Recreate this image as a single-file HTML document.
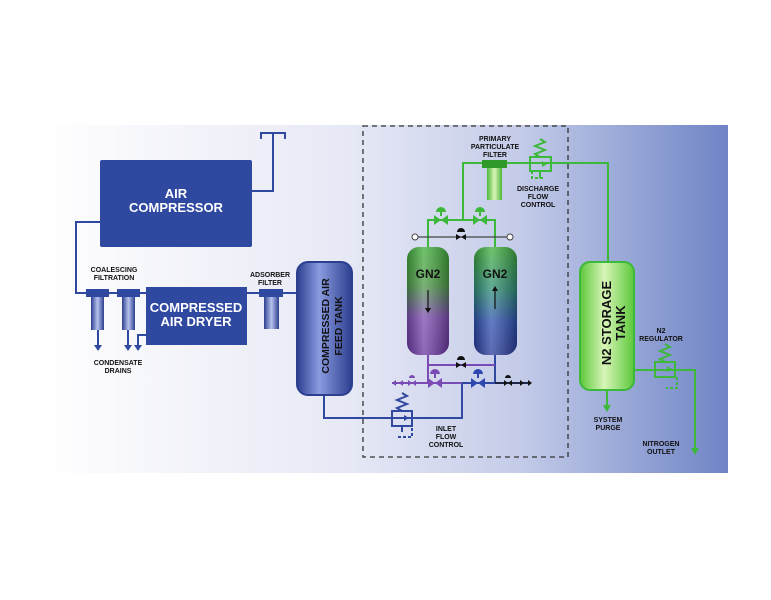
<!DOCTYPE html>
<html><head><meta charset="utf-8"><style>
html,body{margin:0;padding:0;background:#fff}
svg{display:block}
text{font-family:"Liberation Sans",sans-serif;font-weight:bold}
</style></head><body>
<svg width="771" height="600" viewBox="0 0 771 600" xmlns="http://www.w3.org/2000/svg">
<defs>
<linearGradient id="bg" x1="0" x2="1" y1="0" y2="0">
<stop offset="0" stop-color="#ffffff"/>
<stop offset="0.45" stop-color="#e6e8f5"/>
<stop offset="0.7" stop-color="#c3cbe8"/>
<stop offset="1" stop-color="#6f84c6"/>
</linearGradient>
<linearGradient id="tankB" x1="0" x2="1">
<stop offset="0" stop-color="#2c3f8f"/><stop offset="0.4" stop-color="#8b9be0"/><stop offset="1" stop-color="#2c3f8f"/>
</linearGradient>
<linearGradient id="tankG" x1="0" x2="1">
<stop offset="0" stop-color="#5cc83a"/><stop offset="0.45" stop-color="#d8f5b8"/><stop offset="1" stop-color="#5cc83a"/>
</linearGradient>
<linearGradient id="t1" x1="0" x2="0" y1="0" y2="1">
<stop offset="0" stop-color="#3fae3a"/><stop offset="0.35" stop-color="#4c9a45"/><stop offset="0.65" stop-color="#7d4cb0"/><stop offset="1" stop-color="#6a35a0"/>
</linearGradient>
<linearGradient id="t2" x1="0" x2="0" y1="0" y2="1">
<stop offset="0" stop-color="#3fae3a"/><stop offset="0.4" stop-color="#2f8c78"/><stop offset="0.7" stop-color="#2d4fb0"/><stop offset="1" stop-color="#2a3a9a"/>
</linearGradient>
<linearGradient id="sh" x1="0" x2="1">
<stop offset="0" stop-color="#000" stop-opacity="0.25"/><stop offset="0.4" stop-color="#fff" stop-opacity="0.25"/><stop offset="1" stop-color="#000" stop-opacity="0.3"/>
</linearGradient>
<linearGradient id="fb" x1="0" x2="1"><stop offset="0" stop-color="#2c3f8f"/><stop offset="0.5" stop-color="#b7c2ee"/><stop offset="1" stop-color="#2c3f8f"/></linearGradient>
<linearGradient id="fg" x1="0" x2="1"><stop offset="0" stop-color="#4cb83a"/><stop offset="0.5" stop-color="#d8f5b8"/><stop offset="1" stop-color="#4cb83a"/></linearGradient>
</defs>
<rect x="40" y="125" width="688" height="348" fill="url(#bg)"/>

<g stroke="#2f48a0" stroke-width="2" fill="none">
<polyline points="252,191 273,191 273,133"/>
<polyline points="261,139 261,133 285,133 285,139"/>
<polyline points="100,222 76,222 76,293 297,293"/>
<polyline points="98,330 98,345"/><polyline points="128,330 128,345"/><polyline points="146,335 138,335 138,345"/>
<polyline points="324,395 324,418 462,418 462,383"/>
<line x1="360" y1="418" x2="363" y2="418"/>
<rect x="392" y="411" width="20" height="15"/>
<polyline points="402,411 397,408 407,404 397,400 407,396 402,393"/>
<polyline points="402,426 402,432"/>
<polyline points="398,437 412,437 412,428" stroke-dasharray="3,2"/>
<line x1="462" y1="383" x2="530" y2="383"/>
<line x1="495" y1="355" x2="495" y2="383"/>
</g>
<g fill="#2f48a0">
<path d="M94,345h8l-4,6z M124,345h8l-4,6z M134,345h8l-4,6z"/>
<path d="M404,415l5,3l-5,3z"/>
</g>

<rect x="100" y="160" width="152" height="87" rx="2" fill="#2f48a0"/>
<text x="176" y="198" fill="#fff" font-size="13" text-anchor="middle">AIR</text>
<text x="176" y="212" fill="#fff" font-size="13" text-anchor="middle">COMPRESSOR</text>
<g>
<rect x="86" y="289" width="23" height="8" fill="#2f48a0"/><rect x="91" y="297" width="13" height="33" fill="url(#fb)"/>
<rect x="117" y="289" width="23" height="8" fill="#2f48a0"/><rect x="122" y="297" width="13" height="33" fill="url(#fb)"/>
<rect x="259" y="289" width="24" height="8" fill="#2f48a0"/><rect x="264" y="297" width="15" height="32" fill="url(#fb)"/>
</g>
<rect x="146" y="287" width="101" height="58" fill="#2f48a0"/>
<text x="196" y="312" fill="#fff" font-size="13" text-anchor="middle">COMPRESSED</text>
<text x="196" y="326" fill="#fff" font-size="13" text-anchor="middle">AIR DRYER</text>
<g font-size="7" fill="#111" text-anchor="middle">
<text x="114" y="272">COALESCING</text><text x="114" y="280">FILTRATION</text>
<text x="270" y="277">ADSORBER</text><text x="270" y="285">FILTER</text>
<text x="118" y="365">CONDENSATE</text><text x="118" y="373">DRAINS</text>
</g>
<rect x="297" y="262" width="55" height="133" rx="11" fill="url(#tankB)" stroke="#2c3f8f" stroke-width="2"/>
<text transform="translate(329,326) rotate(-90)" font-size="10.5" fill="#111" text-anchor="middle">COMPRESSED AIR</text>
<text transform="translate(342,326) rotate(-90)" font-size="10.5" fill="#111" text-anchor="middle">FEED TANK</text>

<rect x="363" y="126" width="205" height="331" fill="none" stroke="#333" stroke-width="1.3" stroke-dasharray="5,4"/>

<g stroke="#3cb83a" stroke-width="2" fill="none">
<polyline points="463,220 463,163 608,163 608,262"/>
<polyline points="428,247 428,220 495,220 495,247"/>
<line x1="415" y1="237" x2="510" y2="237" stroke="#444" stroke-width="1.2"/>
<rect x="530" y="157" width="21" height="14"/>
<polyline points="540,157 535,154 545,150 535,146 545,142 540,139"/>
<polyline points="540,171 540,178"/>
<polyline points="532,171 532,178 545,178" stroke-dasharray="3,2"/>
<polyline points="607,390 607,405"/>
<polyline points="634,370 695,370 695,448"/>
<rect x="655" y="362" width="20" height="15"/>
<polyline points="665,362 660,359 670,355 660,351 670,347 665,344"/>
<polyline points="677,377 677,388 666,388" stroke-dasharray="3,2"/>
</g>
<g fill="#3cb83a">
<path d="M603,405h8l-4,7z M691,448h8l-4,7z"/>
<path d="M434,215l7,5l-7,5z M448,215l-7,5l7,5z M473,215l7,5l-7,5z M487,215l-7,5l7,5z"/>
<path d="M436,212a5,5 0 0 1 10,0z M475,212a5,5 0 0 1 10,0z"/>
<rect x="440" y="212" width="2" height="4"/><rect x="479" y="212" width="2" height="4"/>
<path d="M542,161l5,3l-5,3z M667,366l5,3l-5,3z"/>
</g>
<circle cx="415" cy="237" r="3" fill="#fff" stroke="#444"/><circle cx="510" cy="237" r="3" fill="#fff" stroke="#444"/>
<path d="M456,234l5,3l-5,3z M466,234l-5,3l5,3z M457,232a4,4 0 0 1 8,0z" fill="#111"/>
<rect x="482" y="160" width="25" height="8" fill="#2f9a2a"/><rect x="487" y="168" width="15" height="32" fill="url(#fg)"/>

<rect x="407" y="247" width="42" height="108" rx="12" fill="url(#t1)"/>
<rect x="407" y="247" width="42" height="108" rx="12" fill="url(#sh)"/>
<rect x="474" y="247" width="43" height="108" rx="12" fill="url(#t2)"/>
<rect x="474" y="247" width="43" height="108" rx="12" fill="url(#sh)"/>
<text x="428" y="278" font-size="12" fill="#111" text-anchor="middle">GN2</text>
<text x="495" y="278" font-size="12" fill="#111" text-anchor="middle">GN2</text>
<g stroke="#111" stroke-width="1.2"><line x1="428" y1="290" x2="428" y2="309"/><line x1="495" y1="290" x2="495" y2="309"/></g>
<path d="M425,308h6l-3,5z M492,291h6l-3,-5z" fill="#111"/>

<g stroke-width="2" fill="none">
<polyline points="428,355 428,383" stroke="#7b4bb5"/>
<line x1="428" y1="365" x2="495" y2="365" stroke="#7b4bb5"/>
<line x1="392" y1="383" x2="462" y2="383" stroke="#7b4bb5"/>
<line x1="495" y1="383" x2="530" y2="383" stroke="#111" stroke-width="1.2"/>
</g>
<path d="M456,362l5,3l-5,3z M466,362l-5,3l5,3z M457,360a4,4 0 0 1 8,0z" fill="#111"/>
<g fill="#7b4bb5">
<path d="M428,378l7,5l-7,5z M442,378l-7,5l7,5z M430,374a5,5 0 0 1 10,0z"/><rect x="434" y="374" width="2" height="4"/>
<path d="M408,380l4,3l-4,3z M416,380l-4,3l4,3z M409,378a3,3 0 0 1 6,0z"/>
<path d="M392,383l4,-3v6z M399,383l4,-3v6z"/>
</g>
<g fill="#2f48b0">
<path d="M471,378l7,5l-7,5z M485,378l-7,5l7,5z M473,374a5,5 0 0 1 10,0z"/><rect x="477" y="374" width="2" height="4"/>
</g>
<g fill="#111">
<path d="M504,380l4,3l-4,3z M512,380l-4,3l4,3z M505,378a3,3 0 0 1 6,0z"/>
<path d="M520,380l4,3l-4,3z M528,380l4,3l-4,3z"/>
</g>

<rect x="580" y="262" width="54" height="128" rx="10" fill="url(#tankG)" stroke="#3cb83a" stroke-width="2"/>
<text transform="translate(611,323) rotate(-90)" font-size="13" fill="#111" text-anchor="middle">N2 STORAGE</text>
<text transform="translate(625,323) rotate(-90)" font-size="13" fill="#111" text-anchor="middle">TANK</text>

<g font-size="7" fill="#111" text-anchor="middle">
<text x="495" y="141">PRIMARY</text><text x="495" y="149">PARTICULATE</text><text x="495" y="157">FILTER</text>
<text x="538" y="191">DISCHARGE</text><text x="538" y="199">FLOW</text><text x="538" y="207">CONTROL</text>
<text x="446" y="431">INLET</text><text x="446" y="439">FLOW</text><text x="446" y="447">CONTROL</text>
<text x="608" y="422">SYSTEM</text><text x="608" y="430">PURGE</text>
<text x="661" y="333">N2</text><text x="661" y="341">REGULATOR</text>
<text x="661" y="446">NITROGEN</text><text x="661" y="454">OUTLET</text>
</g>
</svg>
</body></html>
